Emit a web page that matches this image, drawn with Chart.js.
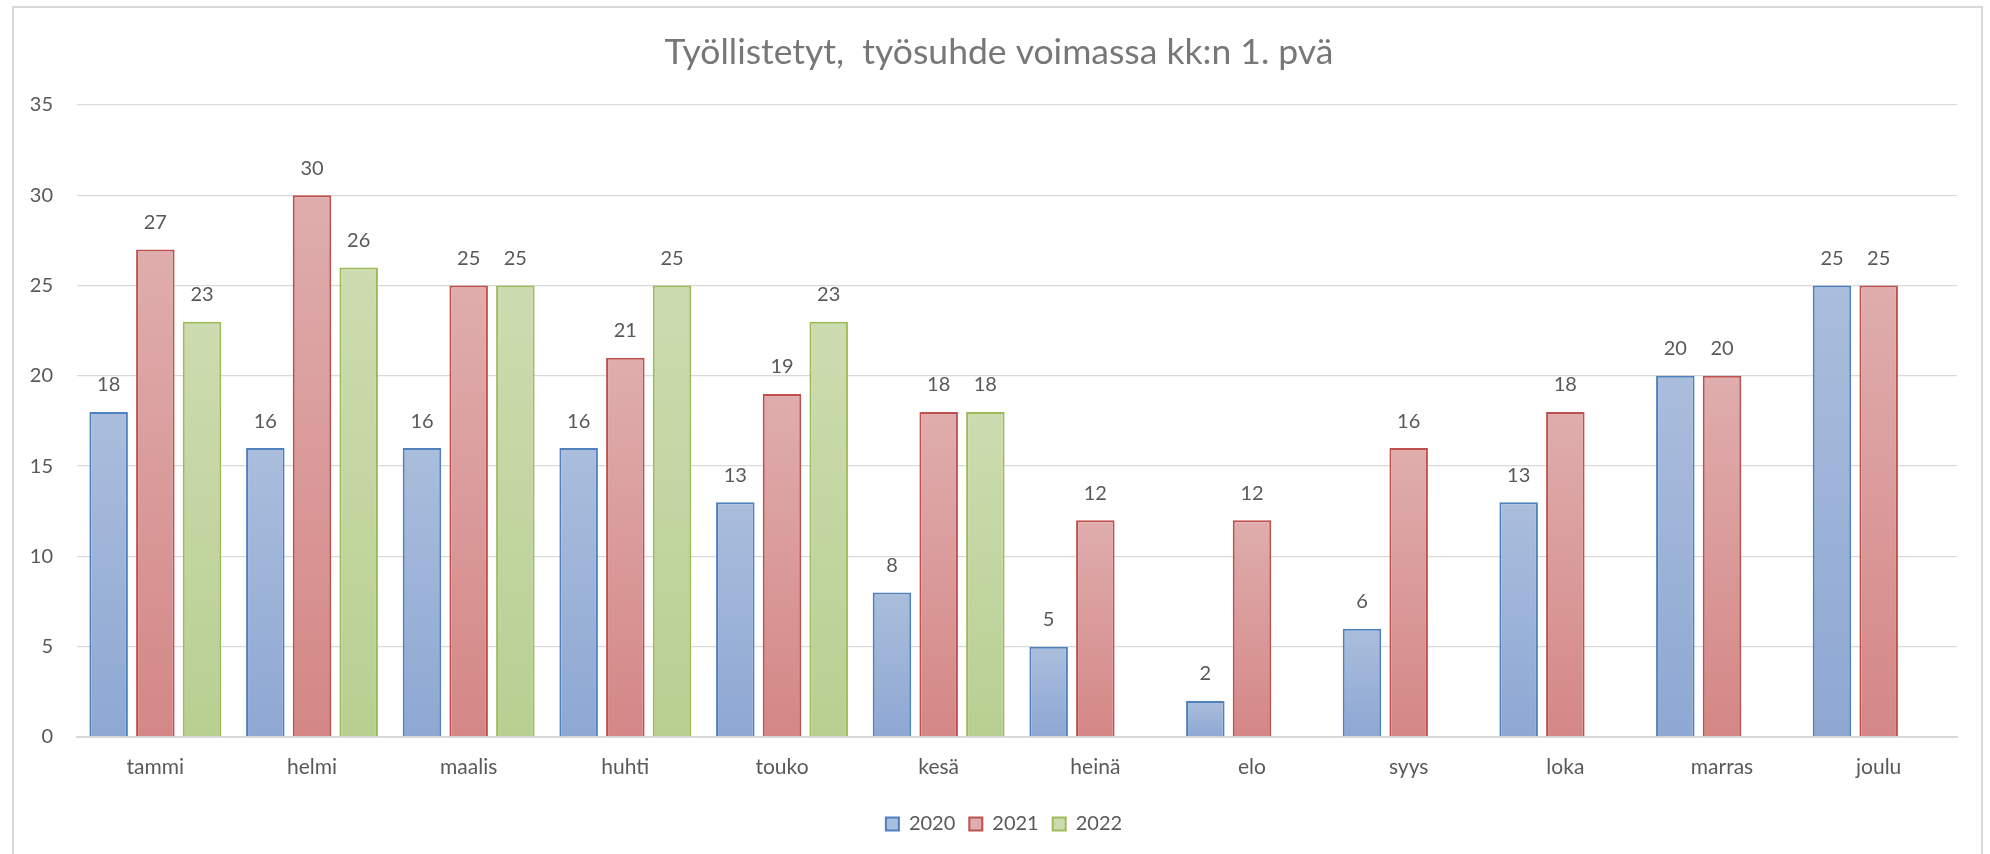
<!DOCTYPE html>
<html>
<head>
<meta charset="utf-8">
<script src="https://cdn.jsdelivr.net/npm/chart.js@4.4.1/dist/chart.umd.min.js"></script>
<style>
  html,body{margin:0;padding:0;background:#fff;width:1990px;height:854px;overflow:hidden;}
  #frame{position:absolute;left:12px;top:6px;width:1971px;height:900px;border:2px solid #d9d9d9;box-sizing:border-box;}
  #chart{position:absolute;left:0;top:0;}
</style>
</head>
<body>
<div id="frame"></div>
<canvas id="chart" width="1990" height="854"></canvas>
<script>
/* Työllistetyt kuukausittain, vuodet 2020–2022 */

const MONTHS = ["tammi","helmi","maalis","huhti","touko","kesä","heinä","elo","syys","loka","marras","joulu"];
const YEARS = ["2020","2021","2022"];
const V2020 = [18,16,16,16,13,8,5,2,6,13,20,25];
const V2021 = [27,30,25,21,19,18,12,12,16,18,20,25];
const V2022 = [23,26,25,25,23,18,null,null,null,null,null,null];
const Y_TICKS = [0,5,10,15,20,25,30,35];

const FONT = "Lato, 'Open Sans', sans-serif";
const TXT = "#595959";

// värit: [yläosa, alaosa, reuna]
const PAL = [
  ["#aabddc","#8ea8d3","#4f81bd"],
  ["#dfadad","#d48786","#c0504d"],
  ["#cddcb0","#b8cf91","#9bbb59"]
];

function barGrad(i){
  return (c)=>{
    const chart=c.chart, v=c.raw;
    if(!chart.chartArea || v==null || c.type!=="data") return PAL[i][1];
    const y=chart.scales.y;
    const g=chart.ctx.createLinearGradient(0,y.getPixelForValue(v),0,y.getPixelForValue(0));
    g.addColorStop(0,PAL[i][0]); g.addColorStop(1,PAL[i][1]);
    return g;
  };
}

const valueLabels = {
  id:"valueLabels",
  afterDatasetsDraw(chart){
    const {ctx}=chart;
    ctx.save();
    ctx.font="20px "+FONT; ctx.fillStyle=TXT;
    ctx.textAlign="center"; ctx.textBaseline="middle";
    chart.data.datasets.forEach((ds,i)=>{
      chart.getDatasetMeta(i).data.forEach((bar,j)=>{
        const v=ds.data[j]; if(v==null) return;
        ctx.fillText(String(v), bar.x, bar.y-27);
      });
    });
    ctx.restore();
  }
};

// otsikko ja selite ovat alkuperäisessä kehyksen keskellä, eivät kuva-alan
const shiftBoxes = {
  id:"shiftBoxes",
  afterLayout(chart){
    if(chart.titleBlock){ chart.titleBlock.left+=14; chart.titleBlock.right+=14; }
    if(chart.legend){ chart.legend.left+=19; chart.legend.right+=19; }
  }
};

const series=[V2020,V2021,V2022];
new Chart(document.getElementById("chart"),{
  type:"bar",
  data:{
    labels:MONTHS,
    datasets:series.map((d,i)=>({
      label:YEARS[i], data:d,
      backgroundColor:barGrad(i), borderColor:PAL[i][2], borderWidth:2,
      categoryPercentage:0.894, barPercentage:0.825
    }))
  },
  options:{
    responsive:false, animation:false, devicePixelRatio:1,
    layout:{ padding:{ left:13, right:33, top:31, bottom:10 } },
    plugins:{
      title:{ display:true, text:"Työllistetyt,  työsuhde voimassa kk:n 1. pvä",
        color:"#777777", font:{ family:FONT, size:35.5, weight:"normal" }, padding:{ top:0, bottom:31.4 } },
      legend:{ position:"bottom",
        labels:{ color:TXT, font:{ family:FONT, size:20 }, boxWidth:13, boxHeight:13, padding:14,
          generateLabels:(chart)=>chart.data.datasets.map((ds,i)=>({
            text:ds.label, fillStyle:PAL[i][0], strokeStyle:PAL[i][2], lineWidth:2, datasetIndex:i, fontColor:TXT
          }))
        } },
      tooltip:{ enabled:false }
    },
    scales:{
      x:{
        grid:{ display:false, drawTicks:false },
        border:{ color:"#d9d9d9", width:2 },
        ticks:{ color:TXT, font:{ family:FONT, size:21 }, padding:18 },
        afterFit:(a)=>{ a.height=63; }
      },
      y:{
        min:0, max:35,
        afterBuildTicks:(a)=>{ a.ticks=Y_TICKS.map(v=>({value:v})); },
        grid:{ color:"#d9d9d9", lineWidth:1.3, drawTicks:false },
        border:{ display:false },
        ticks:{ color:TXT, font:{ family:FONT, size:20 }, padding:24 },
        afterFit:(a)=>{ a.width=64; }
      }
    }
  },
  plugins:[valueLabels, shiftBoxes]
});
</script>
</body>
</html>
